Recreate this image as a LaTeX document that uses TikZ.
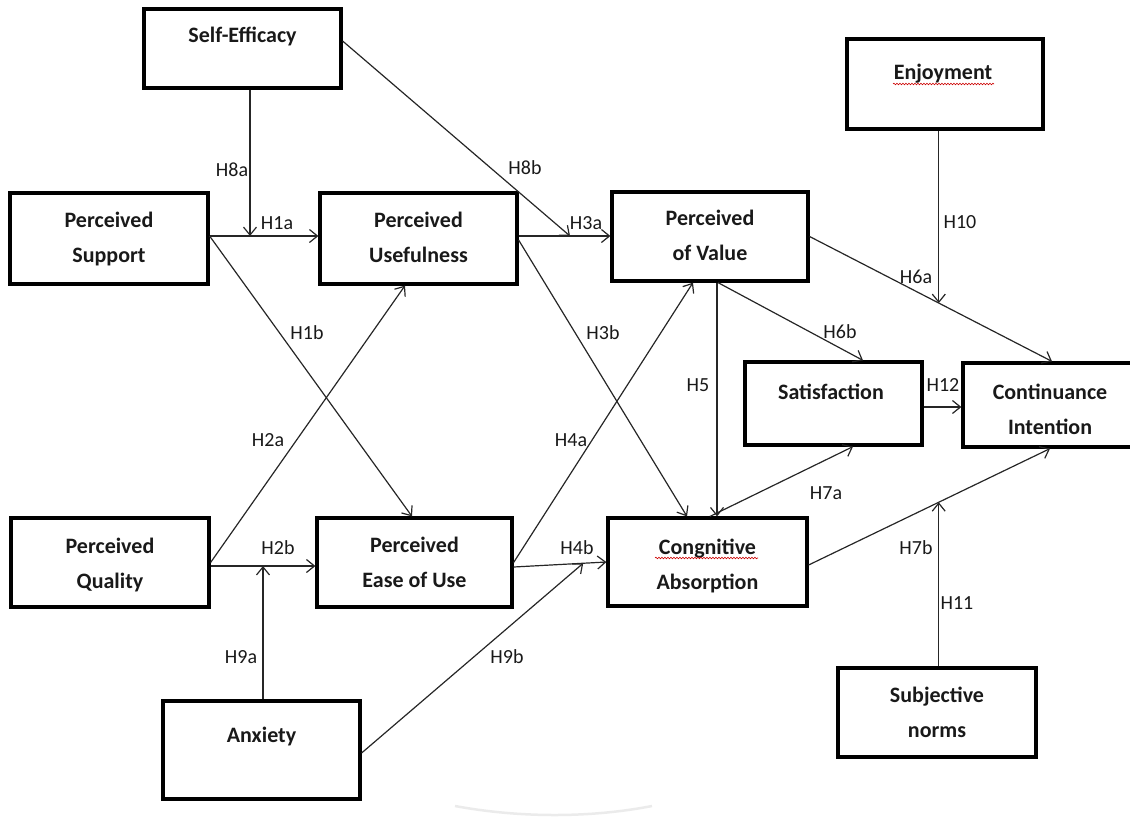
\documentclass[tikz,border=0pt]{standalone}
\usepackage{fontspec}
\setmainfont{Carlito}
\usetikzlibrary{arrows.meta,calc,decorations.pathmorphing}
\begin{document}
\begin{tikzpicture}[x=1pt,y=-1pt,
  box/.style={draw=black, line width=3.2pt, rectangle, inner sep=0pt},
  btext/.style={font=\bfseries\fontsize{22}{35}\selectfont, align=center, text=black!90, inner sep=0pt},
  hlab/.style={font=\fontsize{20}{22}\selectfont, text=black!90, inner sep=0pt},
  arr/.style={line width=1.2pt, draw=black!85, -{Straight Barb[length=8pt,width=13pt,line width=1.2pt]}},
  wavy/.style={draw=red!80!black, line width=0.6pt, decorate, decoration={snake, amplitude=0.8pt, segment length=3pt}}]
\useasboundingbox (0,0) rectangle (1130,817);

% faint shadow arc at the bottom
\draw[black!8, line width=2.5pt] (455,806) .. controls (520,818) and (590,818) .. (652,806);

% boxes
\node[box, minimum width=197pt, minimum height=79pt, label={[btext, yshift=13.5pt, name=set]center:\strut Self-Efficacy}] (se) at (242.5,48.5) {};
\node[box, minimum width=196pt, minimum height=90pt, label={[btext, yshift=12pt, xshift=-2pt, name=enjt]center:\strut Enjoyment}] (enj) at (945,84) {};
\node[box, minimum width=198pt, minimum height=91pt, label={[btext, yshift=0.7pt, name=pst]center:\strut Perceived\\\strut Support}] (ps) at (109,238.5) {};
\node[box, minimum width=197pt, minimum height=91pt, label={[btext, yshift=0.7pt, name=put]center:\strut Perceived\\\strut Usefulness}] (pu) at (418.5,238.5) {};
\node[box, minimum width=196pt, minimum height=89pt, label={[btext, yshift=0.7pt, name=pvt]center:\strut Perceived\\\strut of Value}] (pv) at (710,236.5) {};
\node[box, minimum width=177pt, minimum height=83pt, label={[btext, yshift=11.5pt, xshift=-2.5pt, name=satt]center:\strut Satisfaction}] (sat) at (833.5,403.5) {};
\node[box, minimum width=174pt, minimum height=84pt, label={[btext, yshift=-4.8pt, name=cit]center:\strut Continuance\\\strut Intention}] (ci) at (1050,405) {};
\node[box, minimum width=198pt, minimum height=89pt, label={[btext, yshift=-1.3pt, name=pqt]center:\strut Perceived\\\strut Quality}] (pq) at (110,562.5) {};
\node[box, minimum width=195pt, minimum height=89pt, label={[btext, yshift=0pt, name=peut]center:\strut Perceived\\\strut Ease of Use}] (peu) at (414.5,562.5) {};
\node[box, minimum width=199pt, minimum height=88pt, label={[btext, yshift=-2.8pt, name=cat]center:\strut Congnitive\\\strut Absorption}] (ca) at (707.5,562) {};
\node[box, minimum width=197pt, minimum height=98pt, label={[btext, yshift=15pt, name=anxt]center:\strut Anxiety}] (anx) at (261.5,750) {};
\node[box, minimum width=198pt, minimum height=89pt, label={[btext, yshift=0pt, name=snt]center:\strut Subjective\\\strut norms}] (sn) at (937,712.5) {};

% spell-check underlines
\draw[wavy] (893,84) -- (994,84);
\draw[wavy] (655,558) -- (758,558);

% moderator junction points
\coordinate (m8a) at (250,236);
\coordinate (m8b) at (570,236);
\coordinate (m9a) at (263,566);

% connectors
\draw[arr] (se.south -| m8a) -- (m8a);
\draw[arr] (ps.east |- m8a) -- (pu.west |- m8a);
\draw[arr] (ps.east |- m8a) -- ([xshift=-2.5pt]peu.north);
\draw[arr] (pq.east) -- ([xshift=-13.5pt]pu.south);
\draw[arr] (pq.east |- m9a) -- (peu.west |- m9a);
\draw[arr] (anx.north -| m9a) -- (m9a);
\draw[arr] ([yshift=7.5pt]se.east) -- (m8b);
\draw[arr] (pu.east |- m8b) -- (pv.west |- m8b);
\draw[arr] ([yshift=-1.5pt]pu.east) -- ([xshift=-20.5pt]ca.north);
\draw[arr] (peu.east) -- ([xshift=-17pt]pv.south);
\draw[arr] ([yshift=-4.5pt]peu.east) -- coordinate[pos=0.75] (m9b) (ca.west);
\draw[arr] ([yshift=-3pt]anx.east) -- (m9b);
\draw[arr] ([xshift=7pt]pv.south) -- ([xshift=9.5pt]ca.north);
\draw[arr] ([xshift=8pt]pv.south) -- ([xshift=29.5pt]sat.north);
\draw[arr] (pv.east) -- coordinate[pos=0.533] (m10) ([xshift=2pt]ci.north);
\draw[arr] (enj.south -| m10) -- (m10);
\draw[arr] ([yshift=-3.5pt]sat.east) coordinate (s12) -- (ci.west |- s12);
\draw[arr] ([xshift=2.5pt]ca.north) -- ([xshift=19.5pt]sat.south);
\draw[arr] ([yshift=-3pt]ca.east) -- coordinate[pos=0.539] (m11) (ci.south);
\draw[arr] (sn.north -| m11) -- (m11);

% hypothesis labels
\node[hlab] (l8a) at (232,170) {H8a};
\node[hlab] (l1a) at (277,223) {H1a};
\node[hlab] (l1b) at (307,333) {H1b};
\node[hlab] (l2a) at (268,440) {H2a};
\node[hlab] (l2b) at (278,548) {H2b};
\node[hlab] (l9a) at (241,657) {H9a};
\node[hlab] (l8b) at (525,168) {H8b};
\node[hlab] (l3a) at (586,223) {H3a};
\node[hlab] (l3b) at (603,333) {H3b};
\node[hlab] (l4a) at (571,440) {H4a};
\node[hlab] (l4b) at (577,548) {H4b};
\node[hlab] (l9b) at (507,657) {H9b};
\node[hlab] (l5) at (698,385) {H5};
\node[hlab] (l6b) at (840,332) {H6b};
\node[hlab] (l10) at (960,222) {H10};
\node[hlab] (l6a) at (916,277) {H6a};
\node[hlab] (l12) at (943,385) {H12};
\node[hlab] (l7a) at (826,493) {H7a};
\node[hlab] (l7b) at (916,548) {H7b};
\node[hlab] (l11) at (957,603) {H11};
\end{tikzpicture}
\end{document}
